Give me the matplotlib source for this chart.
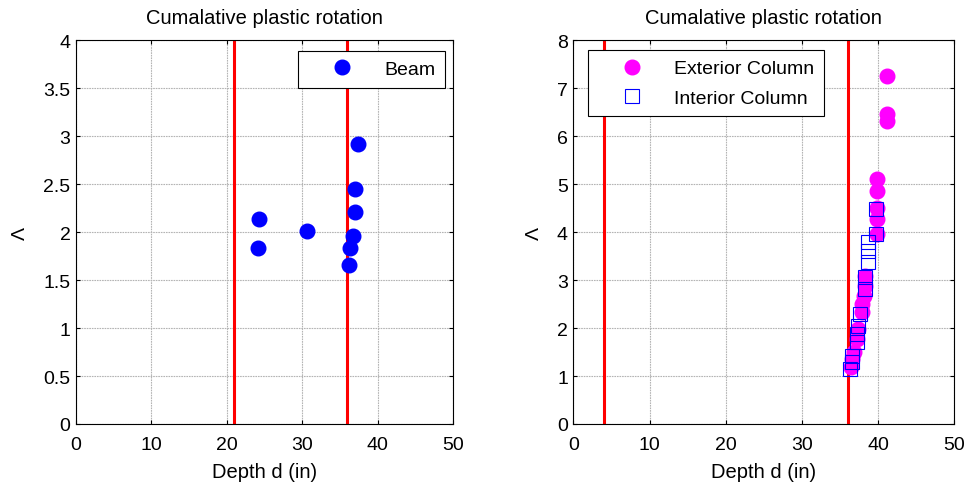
import matplotlib
matplotlib.use("Agg")
import matplotlib.pyplot as plt

plt.rcParams["font.family"] = ["Liberation Sans", "DejaVu Sans"]
plt.rcParams["font.size"] = 14

# Left panel: beams
beam_depth = [37.4, 36.95, 37.0, 36.8, 36.4, 36.2, 24.3, 24.15, 30.6]
beam_lambda = [2.92, 2.45, 2.21, 1.96, 1.83, 1.66, 2.14, 1.83, 2.01]
beam_limits = [21, 36]

# Right panel: columns
ext_depth = [41.15, 41.15, 41.15, 39.9, 39.9, 39.9, 39.9, 39.9, 38.3, 38.3,
             38.1, 37.9, 37.9, 37.4, 37.2, 36.8, 36.6, 36.4]
ext_lambda = [7.26, 6.46, 6.32, 5.10, 4.86, 4.51, 4.27, 3.96, 3.09, 2.88,
              2.67, 2.50, 2.33, 1.98, 1.77, 1.49, 1.35, 1.18]
int_depth = [39.75, 39.75, 38.7, 38.7, 38.7, 38.3, 38.3, 37.6, 37.4, 37.2,
             37.2, 36.6, 36.6, 36.3]
int_lambda = [4.48, 3.96, 3.79, 3.61, 3.37, 3.06, 2.81, 2.29, 2.05, 1.88,
              1.70, 1.42, 1.29, 1.15]
column_limits = [4, 36]

FONT = 14
TEXT_FONT = 14.5


def style_axis(axis, ymax, ystep):
    count = int(round(ymax / ystep))
    axis.set_xlim(0, 50)
    axis.set_ylim(0, ymax)
    axis.set_xticks(range(0, 51, 10))
    axis.set_yticks([i * ystep for i in range(count + 1)])
    axis.set_yticklabels([f"{i * ystep:g}" for i in range(count + 1)])
    axis.grid(True, color="#b4b4b4", linewidth=0.8, linestyle=(0, (1.5, 0.8)))
    axis.set_axisbelow(True)
    axis.tick_params(direction="in", top=True, right=True, length=3,
                     labelsize=FONT)
    axis.tick_params(axis="x", pad=9)
    axis.tick_params(axis="y", pad=4)
    axis.set_xlabel("Depth d (in)", fontsize=TEXT_FONT, labelpad=6)
    axis.set_ylabel("Λ", fontsize=FONT, labelpad=10)
    axis.set_title("Cumalative plastic rotation", fontsize=TEXT_FONT, pad=12)
    for spine in axis.spines.values():
        spine.set_linewidth(0.8)


def style_legend(axis, loc, anchor):
    leg = axis.legend(loc=loc, bbox_to_anchor=anchor, borderaxespad=0,
                      fancybox=False, edgecolor="black", framealpha=1,
                      handlelength=3.55, handletextpad=0.38, borderpad=0.5,
                      labelspacing=0.6, fontsize=FONT)
    leg.get_frame().set_linewidth(0.8)
    return leg


figure = plt.figure(figsize=(9.69, 4.89), dpi=100)
left = figure.add_axes([0.0784, 0.1309, 0.389, 0.785])
right = figure.add_axes([0.5918, 0.1309, 0.393, 0.785])

style_axis(left, 4, 0.5)
for depth in beam_limits:
    left.axvline(depth, color="red", linewidth=2.2, zorder=2)
left.plot(beam_depth, beam_lambda, "o", color="blue", markersize=10.5,
          label="Beam", zorder=3)
style_legend(left, "upper right", (0.979, 0.972))

style_axis(right, 8, 1)
for depth in column_limits:
    right.axvline(depth, color="red", linewidth=2.2, zorder=2)
right.plot(ext_depth, ext_lambda, "o", color="magenta", markersize=10.5,
           label="Exterior Column", zorder=3)
right.plot(int_depth, int_lambda, "s", markerfacecolor="none",
           markeredgecolor="blue", markeredgewidth=0.8, markersize=9.5,
           label="Interior Column", zorder=4)
style_legend(right, "upper left", (0.038, 0.974))

figure.savefig("out.png", dpi=100)
